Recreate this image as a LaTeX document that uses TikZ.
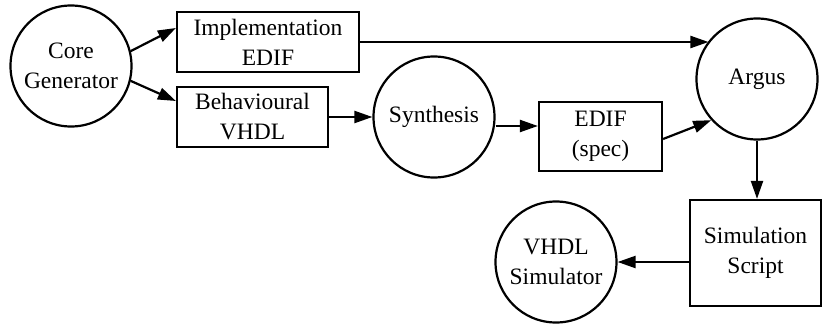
\documentclass[tikz,border=0pt]{standalone}
\usepackage{fontspec}
\setmainfont{Liberation Serif}
\usetikzlibrary{arrows.meta}
\tikzset{
  base/.style={draw, line width=2.2pt, align=center, inner sep=2pt,
    font=\fontsize{23.5}{30}\selectfont},
  circ/.style={base, circle, minimum size=121pt},
  boxx/.style={base, rectangle},
  arr/.style={line width=2.2pt, -{Triangle[length=18pt,width=12pt]}}
}
\begin{document}
\begin{tikzpicture}[x=1pt,y=-1pt]
\useasboundingbox (0,0) rectangle (823,324);
\node[circ] (core) at (71,66) {Core\\Generator};
\node[boxx, minimum width=182pt, minimum height=60pt] (impl) at (268,42) {Implementation\\EDIF};
\node[boxx, minimum width=151pt, minimum height=60pt] (behav) at (252.5,117) {Behavioural\\VHDL};
\node[circ] (synth) at (434,117) {Synthesis};
\node[boxx, minimum width=123pt, minimum height=69pt] (edif) at (600.5,136.5) {EDIF\\(spec)};
\node[circ] (argus) at (757,79) {Argus};
\node[boxx, minimum width=131pt, minimum height=106pt] (sim) at (755.5,253) {Simulation\\Script};
\node[circ] (vhdl) at (556,262) {VHDL\\Simulator};

\draw[arr] (core.14) -- ([yshift=14pt]impl.west);
\draw[arr] (core.-14) -- ([yshift=16pt]behav.west);
\draw[arr] (behav.east) -- (synth.west);
\draw[arr] ([yshift=-9pt]synth.east) -- ([yshift=10.5pt]edif.west);
\draw[arr] ([yshift=-2.5pt]edif.east) -- (argus.222);
\draw[arr] (impl.east) -- (impl.east -| argus.142);
\draw[arr] (argus.south) -- (argus.south |- sim.north);
\draw[arr] (sim.west |- vhdl.east) -- (vhdl.east);
\end{tikzpicture}
\end{document}
